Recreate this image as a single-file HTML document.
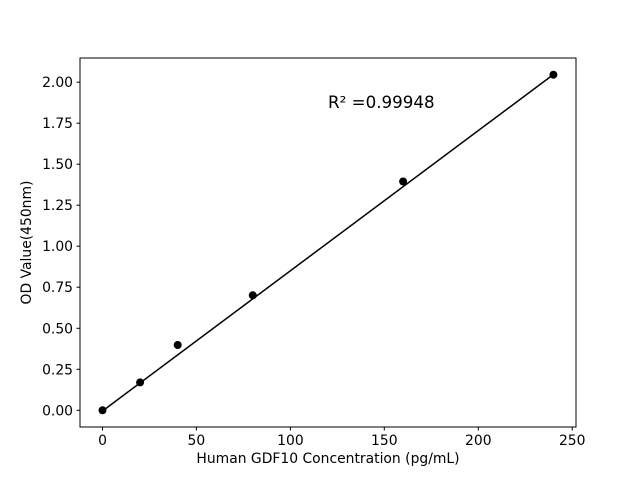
<!DOCTYPE html>
<html><head><meta charset="utf-8"><style>
html,body{margin:0;padding:0;background:#fff;}
svg text{font-family:"DejaVu Sans","Liberation Sans",sans-serif;fill:#000;}
</style></head><body>
<svg width="640" height="480" xmlns="http://www.w3.org/2000/svg">
<rect width="640" height="480" fill="#fff"/>
<g stroke="#000" stroke-width="1">
<!-- x ticks -->
<line x1="102.5" y1="427" x2="102.5" y2="430.5"/>
<line x1="196.4" y1="427" x2="196.4" y2="430.5"/>
<line x1="290.4" y1="427" x2="290.4" y2="430.5"/>
<line x1="384.3" y1="427" x2="384.3" y2="430.5"/>
<line x1="478.3" y1="427" x2="478.3" y2="430.5"/>
<line x1="572.2" y1="427" x2="572.2" y2="430.5"/>
<!-- y ticks -->
<line x1="76.5" y1="410.3" x2="80" y2="410.3"/>
<line x1="76.5" y1="369.3" x2="80" y2="369.3"/>
<line x1="76.5" y1="328.3" x2="80" y2="328.3"/>
<line x1="76.5" y1="287.2" x2="80" y2="287.2"/>
<line x1="76.5" y1="246.2" x2="80" y2="246.2"/>
<line x1="76.5" y1="205.2" x2="80" y2="205.2"/>
<line x1="76.5" y1="164.2" x2="80" y2="164.2"/>
<line x1="76.5" y1="123.2" x2="80" y2="123.2"/>
<line x1="76.5" y1="82.2" x2="80" y2="82.2"/>
</g>
<g font-size="13.9" text-anchor="middle">
<text x="102.5" y="445">0</text>
<text x="196.4" y="445">50</text>
<text x="290.4" y="445">100</text>
<text x="384.3" y="445">150</text>
<text x="478.3" y="445">200</text>
<text x="572.2" y="445">250</text>
</g>
<g font-size="13.9" text-anchor="end">
<text x="73" y="415.3">0.00</text>
<text x="73" y="374.3">0.25</text>
<text x="73" y="333.3">0.50</text>
<text x="73" y="292.2">0.75</text>
<text x="73" y="251.2">1.00</text>
<text x="73" y="210.2">1.25</text>
<text x="73" y="169.2">1.50</text>
<text x="73" y="128.2">1.75</text>
<text x="73" y="87.2">2.00</text>
</g>
<text x="328" y="463" font-size="13.9" text-anchor="middle">Human GDF10 Concentration (pg/mL)</text>
<text transform="translate(31,242.5) rotate(-90)" font-size="13.9" text-anchor="middle">OD Value(450nm)</text>
<text x="328" y="108" font-size="16.7">R² =0.99948</text>
<line x1="102.5" y1="411" x2="553.4" y2="74.5" stroke="#000" stroke-width="1.5"/>
<g fill="#000">
<circle cx="102.5" cy="410.3" r="4"/>
<circle cx="140.1" cy="382.4" r="4"/>
<circle cx="177.7" cy="345" r="4"/>
<circle cx="252.8" cy="295.3" r="4"/>
<circle cx="403.1" cy="181.5" r="4"/>
<circle cx="553.4" cy="74.7" r="4"/>
</g>
<rect x="80" y="58" width="496" height="369" fill="none" stroke="#000" stroke-width="1"/>
</svg>
</body></html>
